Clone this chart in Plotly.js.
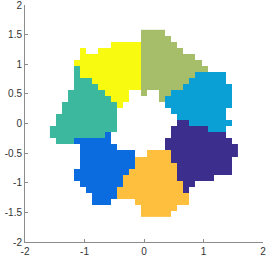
<!DOCTYPE html>
<html>
<head>
<meta charset="utf-8">
<script src="https://cdn.plot.ly/plotly-3.0.1.min.js"></script>
<style>html,body{margin:0;padding:0;background:#fff;}#chart{width:266px;height:260px;}</style>
</head>
<body>
<div id="chart"></div>
<script>
// grid cell centres (same for x and y)
const gridX = [-1.53,-1.428,-1.326,-1.224,-1.122,-1.02,-0.918,-0.816,-0.714,-0.612,-0.51,-0.408,-0.306,-0.204,-0.102,0,0.102,0.204,0.306,0.408,0.51,0.612,0.714,0.816,0.918,1.02,1.122,1.224,1.326,1.428,1.53];
const gridY = gridX.slice();
// cluster labels: N=1 B=2 L=3 T=4 O=5 R=6 Y=7, '.' empty ; rows from top (y=1.53) to bottom, run-length coded
const rowsTopDown = [
"15.,4O,12.",
"15.,5O,11.",
"10.,5Y,6O,10.",
"5.,1Y,2.,7Y,7O,9.",
"5.,10Y,9O,7.",
"4.,11Y,10O,6.",
"4.,1T,10Y,11O,5.",
"4.,1T,10Y,9O,5L,2.",
"4.,3T,8Y,8O,6L,2.",
"4.,4T,7Y,7O,8L,1.",
"3.,6T,4Y,2.,1O,2.,2O,10L,1.",
"3.,7T,3Y,5.,1O,11L,1.",
"2.,9T,1Y,7.,11L,1.",
"2.,9T,9.,9L,2.",
"1.,10T,10.,8L,2.",
"1.,10T,10.,2N,7L,1.",
"11T,9.,6N,3L,2.",
"9T,1B,10.,9N,2.",
"1.,3T,6B,9.,11N,1.",
"5.,6B,8.,12N",
"5.,9B,2.,4R,11N",
"5.,9B,6R,10N,1.",
"5.,9B,7R,9N,1.",
"4.,9B,8R,9N,1.",
"4.,8B,9R,6N,4.",
"5.,7B,10R,2N,7.",
"6.,5B,11R,1N,8.",
"7.,4B,12R,8.",
"7.,3B,4.,9R,8.",
"15.,6R,10.",
"15.,5R,11."
];
const clusterCodes = {N:1,B:2,L:3,T:4,O:5,R:6,Y:7};
const clusterColors = ['#3B2E8C','#0B6CDF','#0AA0D6','#3BB89D','#A6BE6A','#FDBF3D','#F8FA0F'];
const xTickVals = [-2,-1,0,1,2];
const xTickText = ['-2','-1','0','1','2'];
const yTickVals = [-2,-1.5,-1,-0.5,0,0.5,1,1.5,2];
const yTickText = ['-2','-1.5','-1','-0.5','0','0.5','1','1.5','2'];

function decodeRow(s){
  const out=[];
  s.split(',').forEach(tok=>{
    const n=parseInt(tok,10); const ch=tok.replace(/^\d+/,'');
    for(let i=0;i<n;i++) out.push(ch==='.'?null:clusterCodes[ch]);
  });
  return out;
}
const zTop = rowsTopDown.map(decodeRow);
const z = zTop.slice().reverse(); // bottom row first, matches ascending gridY

const cs = clusterColors.map((c,i)=>[i/(clusterColors.length-1), c]);

const trace = {
  type:'heatmap', x:gridX, y:gridY, z:z,
  colorscale:cs, zmin:1, zmax:7, showscale:false, hoverinfo:'none'
};
const axCommon = {
  range:[-2,2], showgrid:false, zeroline:false, showline:true,
  linecolor:'#8c8c8c', linewidth:1, ticks:'inside', ticklen:3,
  tickcolor:'#8c8c8c', tickwidth:1,
  tickfont:{family:'Liberation Sans, Arial, sans-serif', size:10, color:'#333333'},
  ticklabeloverflow:'allow',
  fixedrange:true
};
const layout = {
  width:266, height:260,
  margin:{l:25, r:3, t:5, b:18, pad:0},
  paper_bgcolor:'#ffffff', plot_bgcolor:'#ffffff',
  xaxis:Object.assign({}, axCommon, {tickvals:xTickVals, ticktext:xTickText}),
  yaxis:Object.assign({}, axCommon, {tickvals:yTickVals, ticktext:yTickText}),
  showlegend:false
};
Plotly.newPlot('chart',[trace],layout,{displayModeBar:false, staticPlot:true});
</script>
</body>
</html>
